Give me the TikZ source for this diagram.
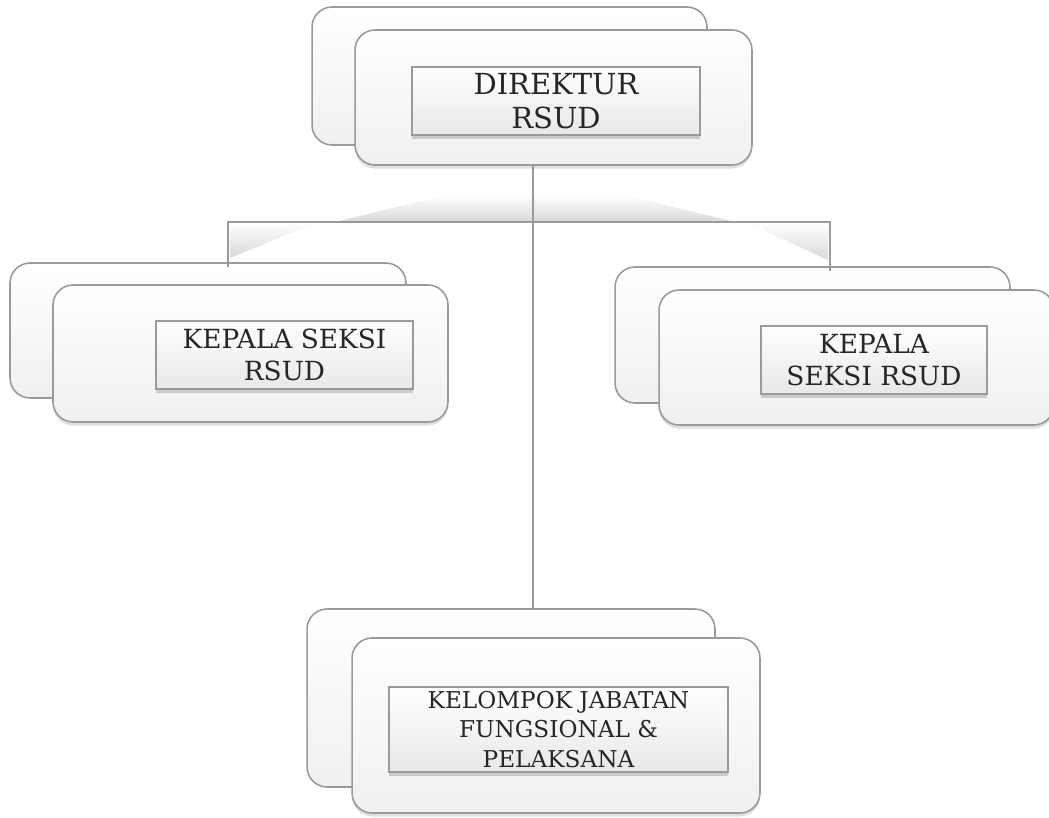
\documentclass[tikz,border=0pt]{standalone}
\usepackage{fontspec}
\setmainfont{DejaVu Serif}
\usetikzlibrary{shadows}
\definecolor{teks}{HTML}{262626}
\definecolor{garisabu}{HTML}{9A9A9A}
\tikzset{
  kotakbelakang/.style={draw=garisabu, line width=0.9pt, rounded corners=0.4cm,
    top color=white, bottom color=gray!12},
  kotakdepan/.style={kotakbelakang, drop shadow={shadow xshift=0pt, shadow yshift=-2pt, opacity=.25}},
  label/.style={draw=garisabu, line width=0.8pt, top color=white, bottom color=gray!18,
    text=teks, align=center, inner sep=0pt,
    drop shadow={shadow xshift=0pt, shadow yshift=-2.5pt, opacity=.35}},
  garis/.style={draw=garisabu, line width=1.1pt},
  bayang/.style={top color=white, bottom color=gray!30}
}
\begin{document}
\begin{tikzpicture}[x=0.02cm, y=-0.02cm]

            \useasboundingbox (0,0) rectangle (1049,818);

            % direktur
            \node[kotakbelakang, minimum width=7.9cm, minimum height=2.76cm] (dirB) at (509.5,76) {};
            \node[kotakdepan, minimum width=7.94cm, minimum height=2.7cm] (dirF) at (553.5,97.5) {};
            \node[label, minimum width=5.76cm, minimum height=1.36cm,
              font=\fontsize{16.5}{19.6}\selectfont] (direktur) at (556,101) {DIREKTUR\\RSUD};

            % kepala seksi kiri
            \node[kotakbelakang, minimum width=7.92cm, minimum height=2.7cm] (kiriB) at (208,330.5) {};
            \node[kotakdepan, minimum width=7.9cm, minimum height=2.74cm] (kiriF) at (250.5,353.5) {};
            \node[label, minimum width=5.14cm, minimum height=1.36cm,
              font=\fontsize{15}{18.5}\selectfont] (kiri) at (284.5,355) {KEPALA SEKSI\\RSUD};

            % kepala seksi kanan
            \node[kotakbelakang, minimum width=7.9cm, minimum height=2.72cm] (kananB) at (812.5,335) {};
            \node[kotakdepan, minimum width=7.9cm, minimum height=2.7cm] (kananF) at (856.5,357.5) {};
            \node[label, minimum width=4.52cm, minimum height=1.36cm,
              font=\fontsize{15}{18.5}\selectfont] (kanan) at (874,360) {KEPALA\\SEKSI RSUD};

            % kelompok jabatan fungsional
            \node[kotakbelakang, minimum width=8.16cm, minimum height=3.56cm] (kelB) at (511,698) {};
            \node[kotakdepan, minimum width=8.16cm, minimum height=3.5cm] (kelF) at (556,725.5) {};
            \node[label, minimum width=6.78cm, minimum height=1.7cm,
              font=\fontsize{13.2}{16.8}\selectfont] (kelompok) at (558.5,729.5) {KELOMPOK JABATAN\\FUNGSIONAL \&\\PELAKSANA};

            % bayangan cabang
            \shade[bayang] (335,222) -- (450,194) -- (620,194) -- (735,222) -- cycle;
            \shade[bayang] (230,222) -- (318,222) -- (230,258) -- cycle;
            \shade[bayang] (745,222) -- (828,222) -- (828,260) -- cycle;

            \coordinate (cabang) at (533,222);
            \coordinate (barKiri) at (228,222);
            \coordinate (barKanan) at (830,222);

            \draw[garis] (cabang |- dirF.south) -- (cabang |- kelB.north);
            \draw[garis] ([yshift=-0.1cm]barKiri |- kiriB.north) -- (barKiri) -- (barKanan) -- ([yshift=-0.1cm]barKanan |- kananB.north);

        \end{tikzpicture}
\end{document}
